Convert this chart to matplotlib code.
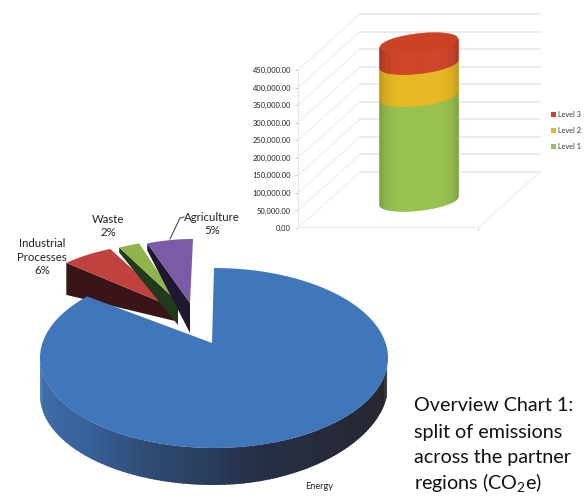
import numpy as np
import matplotlib
matplotlib.use("Agg")
import matplotlib.pyplot as plt
from matplotlib.colors import to_rgb
from matplotlib.patches import Polygon, Rectangle

# ---- data ----
pie_labels = ["Energy", "Agriculture", "Waste", "Industrial\nProcesses"]
pie_shares = [87, 5, 2, 6]
level_names = ["Level 1", "Level 2", "Level 3"]
level_values = [298000, 92000, 60000]
level_colors = ["#98c24f", "#e6b821", "#cf4327"]
tick_values = list(range(0, 450001, 50000))
caption = ["Overview Chart 1:", "split of emissions", "across the partner",
           r"regions (CO$_{\mathrm{2}}$e)"]

W, H = 587, 498
plt.rcParams["font.family"] = ["Lato", "DejaVu Sans"]
plt.rcParams["mathtext.fontset"] = "custom"
plt.rcParams["mathtext.rm"] = "Lato"
fig = plt.figure(figsize=(W / 100, H / 100), dpi=100, facecolor="white")

# ---- stacked cylinder chart: y axis carries the values ----
PX_PER_UNIT = (228 - 70) / 450000
ax2 = fig.add_axes([298 / W, 1 - 228 / H, 242 / W, 228 / H])
ax2.set_xlim(298, 540)
ax2.set_ylim(0, 228 / PX_PER_UNIT)
ax2.patch.set_visible(False)
for s in ax2.spines.values():
    s.set_visible(False)
ax2.set_xticks([])
ax2.set_yticks(tick_values)
ax2.set_yticklabels([f"{v:,.2f}" for v in tick_values], fontsize=5.4, color="#222222")
ax2.tick_params(axis="y", length=2, width=0.6, color="#bbbbbb", pad=3)
ax2.spines["left"].set_visible(True)
ax2.spines["left"].set_bounds(0, 450000)
ax2.spines["left"].set_color("#e6e6e6")

depth = 56 / PX_PER_UNIT
for v in tick_values:
    ax2.plot([298, 360], [v, v + depth], color="#f1f1f1", lw=1.0, clip_on=False)
    ax2.plot([360, 540], [v + depth, v + depth], color="#eaeaea", lw=1.3, clip_on=False)
ax2.plot([298, 478], [0, 0], color="#e8e8e8", lw=1.2)
ax2.plot([478, 540], [0, depth], color="#f1f1f1", lw=1.2)
ax2.plot([478, 478], [0, -2 / PX_PER_UNIT], color="#cccccc", lw=0.6, clip_on=False)

cx, rx, ry, tilt = 419, 39, 9.5, 4.2
base = 27 / PX_PER_UNIT
edges = np.linspace(0, np.pi, 60)
cum = 0
for val, col in zip(level_values, level_colors):
    rgb = np.array(to_rgb(col))
    for t0, t1 in zip(edges[:-1], edges[1:]):
        tt = np.array([t0, t1])
        xs = cx + rx * np.cos(tt)
        fy = (-ry * np.sin(tt) + tilt * np.cos(tt)) / PX_PER_UNIT
        shade = 1 - 0.16 * np.abs(np.cos((t0 + t1) / 2)) ** 5
        c = tuple(rgb * shade)
        ax2.fill(np.r_[xs, xs[::-1]],
                 np.r_[base + cum + fy, base + cum + val + fy[::-1]],
                 facecolor=c, edgecolor=c, lw=0.5, zorder=3)
    cum += val
t = np.linspace(0, 2 * np.pi, 160)
top_rgb = tuple(np.array(to_rgb(level_colors[-1])) * 0.98)
ax2.fill(cx + rx * np.cos(t),
         base + cum + (-ry * np.sin(t) + tilt * np.cos(t)) / PX_PER_UNIT,
         facecolor=top_rgb, edgecolor=top_rgb, lw=0.3, zorder=4)

# ---- overlay in pixel coordinates ----
ax = fig.add_axes([0, 0, 1, 1])
ax.set_xlim(0, W)
ax.set_ylim(H, 0)
ax.axis("off")
ax.patch.set_visible(False)

# legend
for yy, name, col in zip([146, 130, 114], level_names, level_colors):
    ax.add_patch(Rectangle((551, yy - 2.5), 5, 5, color=col, lw=0))
    ax.text(557.5, yy, name, fontsize=5.2, va="center", color="#333333")


def arc(c, a, b, t1, t2, n=60):
    th = np.radians(np.linspace(t1, t2, n))
    return np.c_[c[0] + a * np.cos(th), c[1] - b * np.sin(th)]


# pie angles come from the shares (clockwise from 12 o'clock for Energy)
energy, agri, waste, indus = pie_shares
deg = 360 / sum(pie_shares)
e_end = 90 - energy * deg
a1, a2 = 90, 90 + agri * deg
w1, w2 = a2, a2 + waste * deg
i1, i2 = w2, w2 + indus * deg

slices = [  # ellipse centre, a, b, tip, angles, top, side, rim depth outer, rim depth tip
    ((172, 306), 145, 63, (175, 308), i1, i2, "#c0413d", "#3a1518", 32, 13),
    ((192, 329), 171, 90, (178, 302), w1, w2, "#8fb54a", "#223a1c", 5, 23),
    ((193, 329), 148, 90, (190, 303), a1, a2, "#7a5ca6", "#1f1830", 7, 30),
]
for c, a, b, tip, t1, t2, top, side, d_out, d_tip in slices:
    pts = arc(c, a, b, t1, t2, 12)
    outer = pts[-1]
    ax.add_patch(Polygon([outer, tip, (tip[0], tip[1] + d_tip), (outer[0], outer[1] + d_out)],
                         closed=True, color=side, lw=0))
    ax.add_patch(Polygon(np.vstack([pts, tip]), closed=True, color=top, lw=0))

C, A, B, T = (214, 358), 174, 90, 37
apex = (212, 343)
stops_x = [40, 88, 150, 200, 260, 390]
stops_c = np.array([to_rgb(c) for c in
                    ["#3c6ca8", "#38619a", "#2f4a72", "#2a3f60", "#252f45", "#26262e"]])
angs = np.linspace(-6, -180, 140)
for i in range(len(angs) - 1):
    p = arc(C, A, B, angs[i], angs[i + 1] - 0.6, 2)
    xm = p[:, 0].mean()
    col = [np.interp(xm, stops_x, stops_c[:, k]) for k in range(3)]
    d = T - 9 * (max(0, xm - 214) / 174) ** 2
    ax.add_patch(Polygon([p[0], p[1], p[1] + (0, d), p[0] + (0, d)], closed=True,
                         color=col, lw=0))
ax.add_patch(Polygon(np.vstack([arc(C, A, B, 90, e_end, 240), apex]), closed=True,
                     color="#4077ba", lw=0))

# labels
kw = dict(fontsize=8.2, ha="center", va="center", color="#222222", linespacing=1.25)
ax.text(42, 257, f"{pie_labels[3]}\n{indus}%", **kw)
ax.text(108, 226, f"{pie_labels[2]}\n{waste}%", **kw)
ax.text(212, 224, f"{pie_labels[1]}\n{agri}%", **kw)
ax.text(319, 486, pie_labels[0], fontsize=6.6, ha="center", va="center", color="#222222")
ax.plot([170, 180, 184], [239, 218, 217], color="#333333", lw=0.7)

for yy, line in zip([411, 438, 463, 490], caption):
    ax.text(414, yy, line, fontsize=14.2, color="#111111", va="baseline")

fig.savefig("out.png", dpi=100)
